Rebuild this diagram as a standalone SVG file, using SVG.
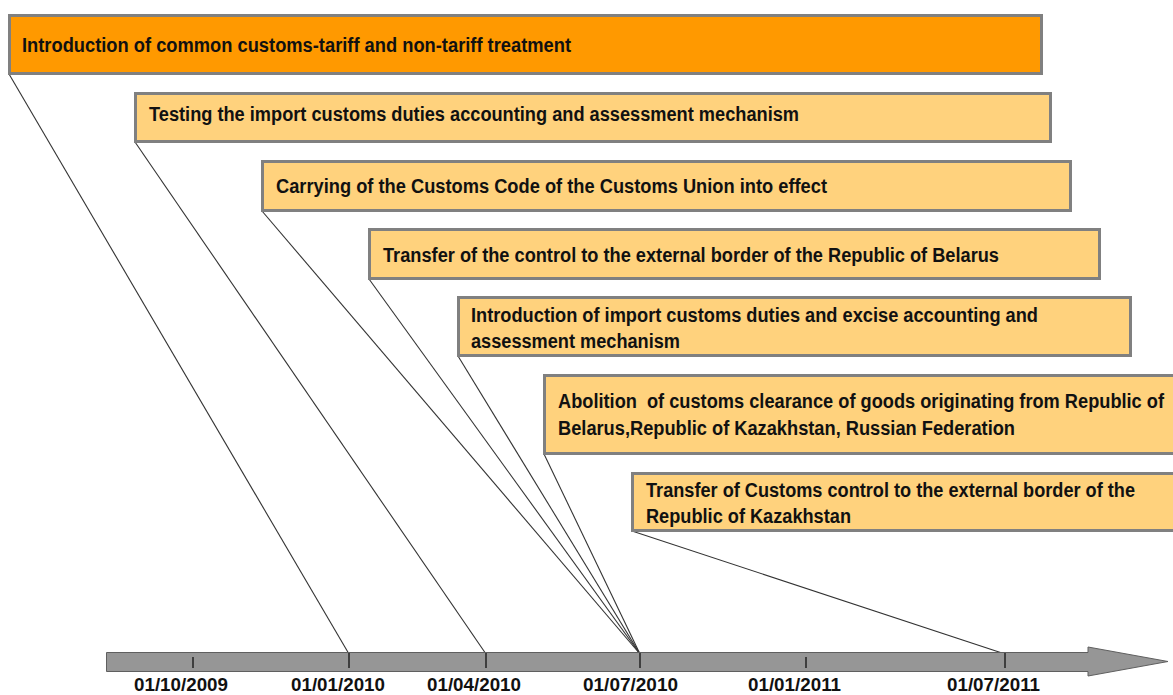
<svg xmlns="http://www.w3.org/2000/svg" width="1173" height="695" viewBox="0 0 1173 695">
<style>
.box{fill:#FFD27D;stroke:#808080;stroke-width:3}
.main{fill:#FF9900}
.t{font-family:"Liberation Sans",Arial,sans-serif;font-size:19.5px;font-weight:bold;fill:#111;white-space:pre}
.d{font-family:"Liberation Sans",Arial,sans-serif;font-size:18px;font-weight:bold;fill:#111}
.c{stroke:#333;stroke-width:1.1;fill:none}
.tick{stroke:#222;stroke-width:1.5}
</style>
<rect width="1173" height="695" fill="#ffffff"/>
<g id="connectors">
<line class="c" x1="9" y1="74" x2="349" y2="654"/>
<line class="c" x1="135" y1="142" x2="486" y2="654"/>
<line class="c" x1="262" y1="211" x2="640" y2="654"/>
<line class="c" x1="369" y1="279" x2="640" y2="654"/>
<line class="c" x1="458" y1="356" x2="640" y2="654"/>
<line class="c" x1="544" y1="454" x2="640" y2="654"/>
<line class="c" x1="632" y1="531" x2="1005" y2="654"/>
</g>
<g id="timeline">
<path d="M106.5,652.5 H1088 V647 L1168,661.5 L1088,676 V671.5 H106.5 Z" fill="#969696" stroke="#5f5f5f" stroke-width="1"/>
<line class="tick" x1="193" y1="657" x2="193" y2="668"/>
<line class="tick" x1="349" y1="653" x2="349" y2="668"/>
<line class="tick" x1="486" y1="653" x2="486" y2="668"/>
<line class="tick" x1="640" y1="653" x2="640" y2="668"/>
<line class="tick" x1="806" y1="657" x2="806" y2="668"/>
<line class="tick" x1="1005" y1="653" x2="1005" y2="668"/>
<text class="d" x="134" y="691" textLength="94" lengthAdjust="spacingAndGlyphs">01/10/2009</text>
<text class="d" x="291" y="691" textLength="94" lengthAdjust="spacingAndGlyphs">01/01/2010</text>
<text class="d" x="427" y="691" textLength="94" lengthAdjust="spacingAndGlyphs">01/04/2010</text>
<text class="d" x="583" y="691" textLength="95" lengthAdjust="spacingAndGlyphs">01/07/2010</text>
<text class="d" x="748" y="691" textLength="93" lengthAdjust="spacingAndGlyphs">01/01/2011</text>
<text class="d" x="947" y="691" textLength="93" lengthAdjust="spacingAndGlyphs">01/07/2011</text>
</g>
<g id="n1">
<rect class="box main" x="9.5" y="15.5" width="1032" height="58"/>
<text class="t" x="22" y="52" textLength="549" lengthAdjust="spacingAndGlyphs">Introduction of common customs-tariff and non-tariff treatment</text>
</g>
<g id="n2">
<rect class="box" x="135.5" y="93.5" width="915" height="48"/>
<text class="t" x="149" y="121" textLength="650" lengthAdjust="spacingAndGlyphs">Testing the import customs duties accounting and assessment mechanism</text>
</g>
<g id="n3">
<rect class="box" x="262.5" y="161.5" width="808" height="49"/>
<text class="t" x="276" y="193" textLength="551" lengthAdjust="spacingAndGlyphs">Carrying of the Customs Code of the Customs Union into effect</text>
</g>
<g id="n4">
<rect class="box" x="369.5" y="229.5" width="730" height="49"/>
<text class="t" x="383" y="262" textLength="616" lengthAdjust="spacingAndGlyphs">Transfer of the control to the external border of the Republic of Belarus</text>
</g>
<g id="n5">
<rect class="box" x="458.5" y="297.5" width="672" height="58"/>
<text class="t" x="471" y="322" textLength="567" lengthAdjust="spacingAndGlyphs">Introduction of import customs duties and excise accounting and</text>
<text class="t" x="471" y="348" textLength="209" lengthAdjust="spacingAndGlyphs">assessment mechanism</text>
</g>
<g id="n6">
<rect class="box" x="544.5" y="375.5" width="640" height="78"/>
<text class="t" x="558" y="408" textLength="606" lengthAdjust="spacingAndGlyphs">Abolition  of customs clearance of goods originating from Republic of</text>
<text class="t" x="558" y="435" textLength="457" lengthAdjust="spacingAndGlyphs">Belarus,Republic of Kazakhstan, Russian Federation</text>
</g>
<g id="n7">
<rect class="box" x="632.5" y="473.5" width="560" height="57"/>
<text class="t" x="646" y="497" textLength="489" lengthAdjust="spacingAndGlyphs">Transfer of Customs control to the external border of the</text>
<text class="t" x="646" y="523" textLength="205" lengthAdjust="spacingAndGlyphs">Republic of Kazakhstan</text>
</g>
</svg>
